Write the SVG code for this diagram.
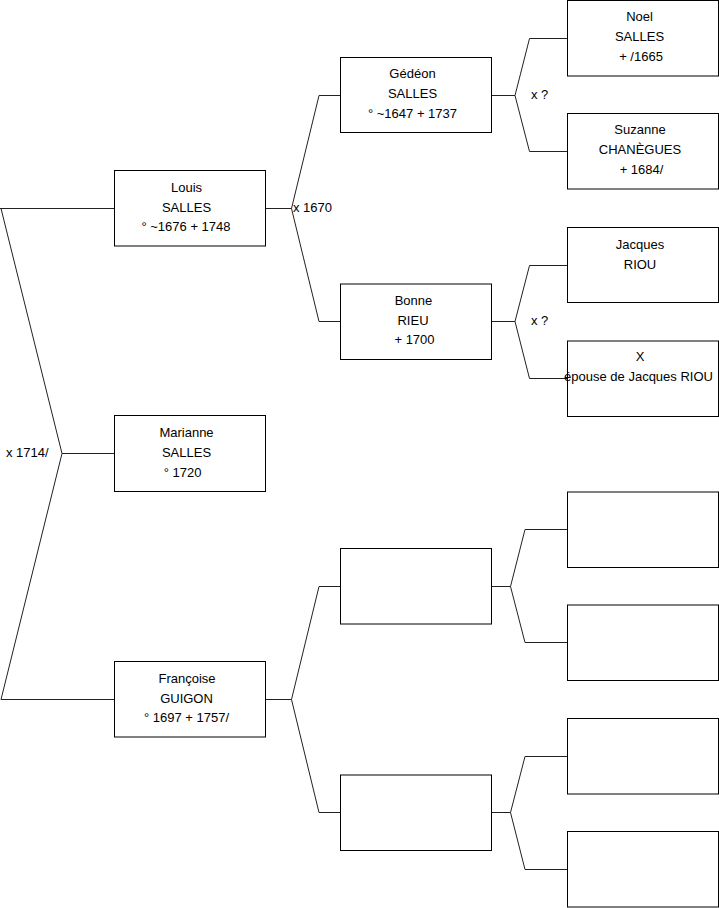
<svg xmlns="http://www.w3.org/2000/svg" width="719" height="908" viewBox="0 0 719 908">
<style>
.box{fill:#fff;stroke:#000;stroke-width:1}
.ln{fill:none;stroke:#222;stroke-width:1}
text{font-family:"Liberation Sans",Arial,sans-serif;font-size:13px;fill:#000}
.c{text-anchor:middle}
</style>
<rect width="719" height="908" fill="#fff"/>
<g id="connectors">
<path class="ln" d="M0,208.5 H114.5 M1,208.5 L62,453.5 H114.5 M62,453.5 L1,699.5 H114.5"/>
<path class="ln" d="M265.5,208.5 H291.5 L319,95.5 H340.5 M291.5,208.5 L319,321.5 H340.5"/>
<path class="ln" d="M265.5,699.5 H291.5 L319,586.5 H340.5 M291.5,699.5 L319,812.5 H340.5"/>
<path class="ln" d="M491.5,95.5 H515 L529.5,38.5 H567.5 M515,95.5 L529.5,151.5 H567.5"/>
<path class="ln" d="M491.5,321.5 H515 L529.5,265.5 H567.5 M515,321.5 L529.5,378.5 H567.5"/>
<path class="ln" d="M491.5,586.5 H510.5 L525,529.5 H567.5 M510.5,586.5 L525,642.5 H567.5"/>
<path class="ln" d="M491.5,812.5 H510.5 L525,756.5 H567.5 M510.5,812.5 L525,869.5 H567.5"/>
<text x="293" y="211.5">x 1670</text>
<text x="6" y="457">x 1714/</text>
<text x="531" y="98.5">x ?</text>
<text x="531" y="324.5">x ?</text>
</g>
<g id="louis">
<rect class="box" x="114.5" y="170.5" width="151" height="75.5"/>
<text class="c" x="186.5" y="191.5">Louis</text>
<text class="c" x="186.5" y="211.5">SALLES</text>
<text class="c" x="186" y="231">° ~1676 + 1748</text>
</g>
<g id="marianne">
<rect class="box" x="114.5" y="415.5" width="151" height="76"/>
<text class="c" x="186.5" y="437">Marianne</text>
<text class="c" x="186.5" y="457">SALLES</text>
<text class="c" x="182.5" y="476.5">° 1720</text>
</g>
<g id="francoise">
<rect class="box" x="114.5" y="661.5" width="151" height="75.5"/>
<text class="c" x="187" y="682.5">Françoise</text>
<text class="c" x="186.5" y="702.5">GUIGON</text>
<text class="c" x="186.5" y="722">° 1697 + 1757/</text>
</g>
<g id="gedeon">
<rect class="box" x="340.5" y="57.5" width="151" height="75"/>
<text class="c" x="412.5" y="78">Gédéon</text>
<text class="c" x="412.5" y="98">SALLES</text>
<text class="c" x="412.5" y="117.5">° ~1647 + 1737</text>
</g>
<g id="bonne">
<rect class="box" x="340.5" y="284" width="151" height="75.5"/>
<text class="c" x="413.5" y="304.5">Bonne</text>
<text class="c" x="413" y="324.5">RIEU</text>
<text class="c" x="414.5" y="344">+ 1700</text>
</g>
<g id="empty-f">
<rect class="box" x="340.5" y="548.5" width="151" height="75.5"/>
</g>
<g id="empty-m">
<rect class="box" x="340.5" y="775" width="151" height="75.5"/>
</g>
<g id="noel">
<rect class="box" x="567.5" y="0.5" width="151" height="75.5"/>
<text class="c" x="639.5" y="21">Noel</text>
<text class="c" x="639.5" y="41">SALLES</text>
<text class="c" x="641" y="61">+ /1665</text>
</g>
<g id="suzanne">
<rect class="box" x="567.5" y="113.5" width="151" height="75.5"/>
<text class="c" x="640" y="134">Suzanne</text>
<text class="c" x="640" y="154">CHANÈGUES</text>
<text class="c" x="641.5" y="173.5">+ 1684/</text>
</g>
<g id="jacques">
<rect class="box" x="567.5" y="227.5" width="151" height="75"/>
<text class="c" x="640" y="249">Jacques</text>
<text class="c" x="640" y="268.5">RIOU</text>
</g>
<g id="x-epouse">
<rect class="box" x="567.5" y="341" width="151" height="75.5"/>
<text class="c" x="640" y="361">X</text>
<text class="c" x="638.5" y="380.5">épouse de Jacques RIOU</text>
</g>
<g id="empty1"><rect class="box" x="567.5" y="492" width="151" height="75.5"/></g>
<g id="empty2"><rect class="box" x="567.5" y="605" width="151" height="75.5"/></g>
<g id="empty3"><rect class="box" x="567.5" y="718.5" width="151" height="75.5"/></g>
<g id="empty4"><rect class="box" x="567.5" y="831.5" width="151" height="75.5"/></g>
</svg>
